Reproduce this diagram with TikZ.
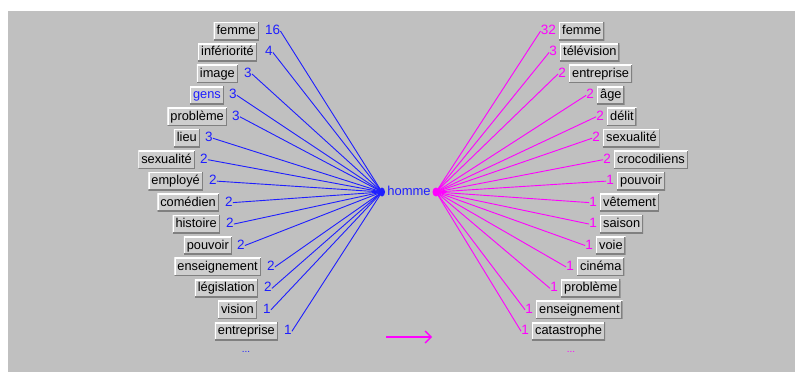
\documentclass[tikz,border=0pt]{standalone}
\usepackage{fontspec}
\setmainfont{Liberation Sans}
\usetikzlibrary{arrows.meta}
\definecolor{bggray}{RGB}{192,192,192}
\definecolor{boxfill}{RGB}{206,206,206}
\definecolor{shadow}{RGB}{128,128,128}
\definecolor{lblue}{RGB}{30,30,255}
\definecolor{lmag}{RGB}{255,0,255}
\tikzset{
  wbox/.style={fill=boxfill, inner xsep=3pt, inner ysep=0pt, minimum height=18pt,
    text height=9.5pt, text depth=2.5pt, font=\fontsize{12.8}{14}\selectfont,
    path picture={
      \draw[white,line width=2.4pt] (path picture bounding box.south west) |- (path picture bounding box.north east);
      \draw[shadow,line width=2.4pt] (path picture bounding box.south west) -| (path picture bounding box.north east);
    }},
  numb/.style={inner sep=0pt, font=\fontsize{13.5}{15}\selectfont, text height=9.5pt, text depth=2.5pt},
  bline/.style={lblue, line width=0.9pt},
  mline/.style={lmag, line width=0.9pt},
}
\begin{document}
\begin{tikzpicture}[x=1pt,y=-1pt]
\useasboundingbox (0,0) rectangle (795,372);
\fill[bggray] (8,11) rectangle (795,372);
\coordinate (hl) at (382,192);
\coordinate (hr) at (436,192);
\node[lblue, numb, font=\fontsize{13}{15}\selectfont] (homme) at (409,192) {homme};
% left side
\foreach \i/\bx/\nx/\txt/\n in {
  0/259/265/femme/16,
  1/257/265/infériorité/4,
  2/238/244/image/3,
  4/227/232/problème/3,
  5/200/205/lieu/3,
  6/195/200/sexualité/2,
  7/203/209/employé/2,
  8/219/225/comédien/2,
  9/220/226/histoire/2,
  10/232/237/pouvoir/2,
  11/261/267/enseignement/2,
  12/258/264/législation/2,
  13/257/263/vision/1,
  14/278/284/entreprise/1}{
  \node[wbox, anchor=east] (lb\i) at (\bx,31+21.45*\i) {\txt};
  \node[numb, lblue, anchor=west] (ln\i) at (\nx,31+21.45*\i) {\n};
  \draw[bline] (ln\i.east) -- (hl);
}
\node[wbox, anchor=east, text=lblue] (lb3) at (224,31+21.45*3) {gens};
\node[numb, lblue, anchor=west] (ln3) at (229,31+21.45*3) {3};
\draw[bline] (ln3.east) -- (hl);
\node[lblue, font=\fontsize{10}{11}\selectfont] (ldots) at (246,352) {...};
% right side
\foreach \i/\bx/\txt/\n in {
  0/559/femme/32,
  1/560/télévision/3,
  2/569/entreprise/2,
  3/597/âge/2,
  4/607/délit/2,
  5/603/sexualité/2,
  6/614/crocodiliens/2,
  7/617/pouvoir/1,
  8/600/vêtement/1,
  9/600/saison/1,
  10/596/voie/1,
  11/577/cinéma/1,
  12/561/problème/1,
  13/536/enseignement/1,
  14/532/catastrophe/1}{
  \node[wbox, anchor=west] (rb\i) at (\bx,31+21.45*\i) {\txt};
  \node[numb, lmag, anchor=east] (rn\i) at (\bx-3,31+21.45*\i) {\n};
  \draw[mline] (hr) -- (rn\i.west);
}
\node[lmag, font=\fontsize{10}{11}\selectfont] (rdots) at (571,352) {...};
\fill[lblue] (hl) ellipse (3 and 4.5);
\fill[lmag] (hr) ellipse (3.5 and 4.5);
% legend arrow
\coordinate (a1) at (386,337);
\coordinate (a2) at (432,337);
\draw[lmag, line width=1.3pt, -{Straight Barb[length=6pt,width=12pt,line width=1.3pt]}] (a1) -- (a2);
\end{tikzpicture}
\end{document}
